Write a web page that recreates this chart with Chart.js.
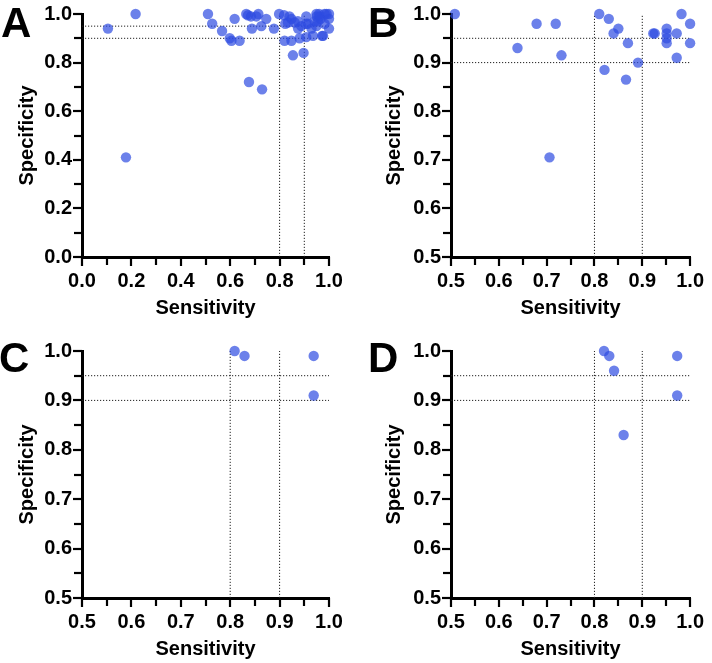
<!DOCTYPE html>
<html>
<head>
<meta charset="utf-8">
<script src="https://cdn.jsdelivr.net/npm/chart.js@4.4.1/dist/chart.umd.min.js"></script>
<style>
    body { margin: 0; background: #fff; }
    #wrap { position: relative; width: 712px; height: 663px; }
    .cell { position: absolute; }
    .cell canvas { display: block; }
    .tag { position: absolute; font: bold 42px "Liberation Sans", Arial, sans-serif; color: #000; line-height: 1; }
</style>
</head>
<body>
<div id="wrap">
    <div class="cell" style="left:0;top:0"><canvas id="chartA" width="356" height="331"></canvas></div>
    <div class="cell" style="left:356px;top:0"><canvas id="chartB" width="356" height="331"></canvas></div>
    <div class="cell" style="left:0;top:331px"><canvas id="chartC" width="356" height="332"></canvas></div>
    <div class="cell" style="left:356px;top:331px"><canvas id="chartD" width="356" height="332"></canvas></div>
    <div class="tag" style="left:1px;top:2px">A</div>
    <div class="tag" style="left:368px;top:2px">B</div>
    <div class="tag" style="left:-1px;top:337px">C</div>
    <div class="tag" style="left:368px;top:337px">D</div>
</div>
<script>
// Panel A
var sensA = [0.105, 0.217, 0.178, 0.51, 0.527, 0.567, 0.598, 0.605, 0.638, 0.618,
             0.665, 0.676, 0.729, 0.672, 0.684, 0.688, 0.714, 0.706, 0.726, 0.746,
             0.777, 0.798, 0.818, 0.823, 0.834, 0.82, 0.848, 0.854, 0.897, 0.848,
             0.861, 0.875, 0.874, 0.881, 0.888, 0.908, 0.908, 0.908, 0.929, 0.935,
             0.942, 0.949, 0.949, 0.955, 0.962, 0.966, 0.972, 0.976, 0.982, 0.982,
             0.99, 1.0, 1.0, 1.0, 0.96, 0.95, 0.915, 0.84];
var specA = [0.94, 1.0, 0.41, 1.0, 0.96, 0.93, 0.90, 0.89, 0.89, 0.98,
             1.0, 0.72, 0.69, 0.995, 0.99, 0.94, 1.0, 0.99, 0.95, 0.98,
             0.94, 1.0, 0.995, 0.96, 0.965, 0.89, 0.89, 0.83, 0.84, 0.98,
             0.965, 0.94, 0.97, 0.90, 0.95, 0.99, 0.96, 0.905, 0.94, 0.91,
             0.97, 1.0, 0.95, 0.97, 0.99, 0.98, 0.91, 0.91, 1.0, 0.96,
             1.0, 1.0, 0.98, 0.94, 1.0, 0.99, 0.96, 0.99];
// Panel B
var sensB = [0.508, 0.639, 0.679, 0.719, 0.731, 0.706, 0.81, 0.83, 0.85, 0.84,
             0.821, 0.87, 0.866, 0.891, 0.923, 0.926, 0.951, 0.951, 0.951, 0.951,
             0.972, 0.972, 0.982, 1.0, 1.0];
var specB = [1.0, 0.93, 0.98, 0.98, 0.915, 0.705, 1.0, 0.99, 0.97, 0.96,
             0.885, 0.94, 0.865, 0.90, 0.96, 0.96, 0.97, 0.96, 0.95, 0.94,
             0.96, 0.91, 1.0, 0.98, 0.94];
// Panel C
var sensC = [0.809, 0.829, 0.969, 0.969];
var specC = [1.0, 0.99, 0.99, 0.91];
// Panel D
var sensD = [0.82, 0.831, 0.841, 0.861, 0.973, 0.973];
var specD = [1.0, 0.99, 0.96, 0.83, 0.99, 0.91];

// dotted cut-off lines
var specCuts = [0.95, 0.9];
var sensCuts = [0.8, 0.9];

var fontFam = '"Liberation Sans", Arial, sans-serif';
var dotColor = "rgba(45, 75, 225, 0.7)";

function toPoints(xs, ys) {
    var out = [];
    for (var i = 0; i < xs.length; i++) out.push({ x: xs[i], y: ys[i] });
    return out;
}

// outside tick marks on every step
var tickMarks = {
    id: "tickMarks",
    afterDraw: function (chart) {
        var ctx = chart.ctx;
        var xs = chart.scales.x, ys = chart.scales.y;
        ctx.save();
        ctx.strokeStyle = "#000";
        ctx.lineWidth = 2.2;
        xs.ticks.forEach(function (t) {
            var px = Math.round(xs.getPixelForValue(t.value));
            var len = t.label ? 9 : 8;
            ctx.beginPath();
            ctx.moveTo(px, xs.top);
            ctx.lineTo(px, xs.top + len);
            ctx.stroke();
        });
        ys.ticks.forEach(function (t) {
            var py = Math.round(ys.getPixelForValue(t.value));
            var len = t.label ? 9 : 8;
            ctx.beginPath();
            ctx.moveTo(ys.right, py);
            ctx.lineTo(ys.right - len, py);
            ctx.stroke();
        });
        ctx.restore();
    }
};

function makePanel(id, sens, spec, lo, step, lay) {
    var datasets = [{
        data: toPoints(sens, spec),
        backgroundColor: dotColor,
        borderWidth: 0,
        pointRadius: 5.2,
        clip: false
    }];
    specCuts.forEach(function (c) {
        datasets.push({ data: [{ x: lo, y: c }, { x: 1, y: c }], showLine: true, pointRadius: 0,
            borderColor: "#222", borderWidth: 1, borderDash: [1.2, 1.8] });
    });
    sensCuts.forEach(function (c) {
        datasets.push({ data: [{ x: c, y: lo }, { x: c, y: 1 }], showLine: true, pointRadius: 0,
            borderColor: "#222", borderWidth: 1, borderDash: [1.2, 1.8] });
    });

    function tickLabel(v) {
        var k = Math.round(v / step);
        return k % 2 === 0 ? v.toFixed(1) : "";
    }
    function axis(title, titlePad) {
        return {
            type: "linear",
            min: lo, max: 1,
            ticks: { stepSize: step, autoSkip: false, maxRotation: 0, color: "#000",
                     font: { family: fontFam, size: 20, weight: "bold", lineHeight: 1 },
                     callback: tickLabel },
            grid: { display: true, drawOnChartArea: false, drawTicks: true, tickLength: 6,
                    color: "#000", lineWidth: 2, tickWidth: 2, tickColor: "#000" },
            border: { display: true, color: "#000", width: 3 },
            title: { display: true, text: title, color: "#000", padding: titlePad,
                     font: { family: fontFam, size: 20, weight: "bold", lineHeight: 1.2 } }
        };
    }
    var xAxis = axis("Sensitivity", { top: 0, bottom: lay.xTitlePad });
    xAxis.ticks.padding = 8;
    xAxis.afterFit = function (s) { s.height = lay.xHeight; };
    var yAxis = axis("Specificity", { top: lay.yTitlePad, bottom: 0 });
    yAxis.ticks.padding = 4;
    yAxis.afterFit = function (s) { s.width = lay.yWidth; };

    return new Chart(document.getElementById(id).getContext("2d"), {
        type: "scatter",
        data: { datasets: datasets },
        options: {
            responsive: false,
            animation: false,
            devicePixelRatio: 1,
            layout: { padding: { left: 0, top: lay.top, right: lay.right, bottom: 0 } },
            plugins: { legend: { display: false }, tooltip: { enabled: false } },
            scales: { x: xAxis, y: yAxis }
        },
        plugins: [tickMarks]
    });
}

makePanel("chartA", sensA, specA, 0, 0.1, { top: 10, right: 27, yWidth: 82, xHeight: 74, xTitlePad: 11, yTitlePad: 15 });
makePanel("chartB", sensB, specB, 0.5, 0.05, { top: 10, right: 15, yWidth: 95, xHeight: 74, xTitlePad: 11, yTitlePad: 26 });
makePanel("chartC", sensC, specC, 0.5, 0.05, { top: 20, right: 27, yWidth: 82, xHeight: 65, xTitlePad: 2, yTitlePad: 15 });
makePanel("chartD", sensD, specD, 0.5, 0.05, { top: 20, right: 15, yWidth: 95, xHeight: 65, xTitlePad: 2, yTitlePad: 26 });
</script>
</body>
</html>
